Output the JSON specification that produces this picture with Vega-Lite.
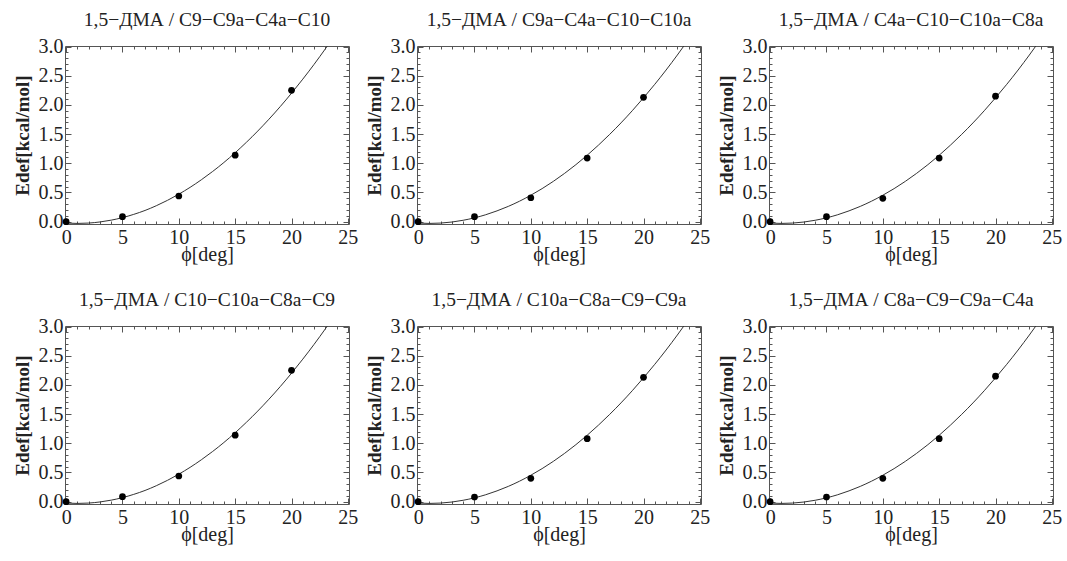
{
  "$schema": "https://vega.github.io/schema/vega-lite/v6.json",
  "padding": {"left": 13, "top": 10, "right": 4, "bottom": 4},
  "background": "white",
  "data": {"values": [
    {"p":1,"k":"d","x":0,"y":0.0},{"p":1,"k":"d","x":5,"y":0.086},{"p":1,"k":"d","x":10,"y":0.44},{"p":1,"k":"d","x":15,"y":1.14},{"p":1,"k":"d","x":20,"y":2.25},
    {"p":2,"k":"d","x":0,"y":0.0},{"p":2,"k":"d","x":5,"y":0.086},{"p":2,"k":"d","x":10,"y":0.41},{"p":2,"k":"d","x":15,"y":1.09},{"p":2,"k":"d","x":20,"y":2.13},
    {"p":3,"k":"d","x":0,"y":0.0},{"p":3,"k":"d","x":5,"y":0.086},{"p":3,"k":"d","x":10,"y":0.40},{"p":3,"k":"d","x":15,"y":1.09},{"p":3,"k":"d","x":20,"y":2.15},
    {"p":4,"k":"d","x":0,"y":0.0},{"p":4,"k":"d","x":5,"y":0.086},{"p":4,"k":"d","x":10,"y":0.44},{"p":4,"k":"d","x":15,"y":1.14},{"p":4,"k":"d","x":20,"y":2.25},
    {"p":5,"k":"d","x":0,"y":0.0},{"p":5,"k":"d","x":5,"y":0.08},{"p":5,"k":"d","x":10,"y":0.40},{"p":5,"k":"d","x":15,"y":1.08},{"p":5,"k":"d","x":20,"y":2.13},
    {"p":6,"k":"d","x":0,"y":0.0},{"p":6,"k":"d","x":5,"y":0.08},{"p":6,"k":"d","x":10,"y":0.40},{"p":6,"k":"d","x":15,"y":1.08},{"p":6,"k":"d","x":20,"y":2.15},

    {"p":1,"k":"f","x":0,"y":-0.024},{"p":1,"k":"f","x":1,"y":-0.030},{"p":1,"k":"f","x":2,"y":-0.024},{"p":1,"k":"f","x":3,"y":-0.005},{"p":1,"k":"f","x":4,"y":0.026},{"p":1,"k":"f","x":5,"y":0.069},{"p":1,"k":"f","x":6,"y":0.125},{"p":1,"k":"f","x":7,"y":0.192},{"p":1,"k":"f","x":8,"y":0.273},{"p":1,"k":"f","x":9,"y":0.366},{"p":1,"k":"f","x":10,"y":0.471},{"p":1,"k":"f","x":11,"y":0.588},{"p":1,"k":"f","x":12,"y":0.718},{"p":1,"k":"f","x":13,"y":0.860},{"p":1,"k":"f","x":14,"y":1.014},{"p":1,"k":"f","x":15,"y":1.181},{"p":1,"k":"f","x":16,"y":1.361},{"p":1,"k":"f","x":17,"y":1.552},{"p":1,"k":"f","x":18,"y":1.756},{"p":1,"k":"f","x":19,"y":1.972},{"p":1,"k":"f","x":20,"y":2.201},{"p":1,"k":"f","x":21,"y":2.442},{"p":1,"k":"f","x":22,"y":2.695},{"p":1,"k":"f","x":23,"y":2.961},{"p":1,"k":"f","x":24,"y":3.239},
    {"p":4,"k":"f","x":0,"y":-0.024},{"p":4,"k":"f","x":1,"y":-0.030},{"p":4,"k":"f","x":2,"y":-0.024},{"p":4,"k":"f","x":3,"y":-0.005},{"p":4,"k":"f","x":4,"y":0.026},{"p":4,"k":"f","x":5,"y":0.069},{"p":4,"k":"f","x":6,"y":0.125},{"p":4,"k":"f","x":7,"y":0.192},{"p":4,"k":"f","x":8,"y":0.273},{"p":4,"k":"f","x":9,"y":0.366},{"p":4,"k":"f","x":10,"y":0.471},{"p":4,"k":"f","x":11,"y":0.588},{"p":4,"k":"f","x":12,"y":0.718},{"p":4,"k":"f","x":13,"y":0.860},{"p":4,"k":"f","x":14,"y":1.014},{"p":4,"k":"f","x":15,"y":1.181},{"p":4,"k":"f","x":16,"y":1.361},{"p":4,"k":"f","x":17,"y":1.552},{"p":4,"k":"f","x":18,"y":1.756},{"p":4,"k":"f","x":19,"y":1.972},{"p":4,"k":"f","x":20,"y":2.201},{"p":4,"k":"f","x":21,"y":2.442},{"p":4,"k":"f","x":22,"y":2.695},{"p":4,"k":"f","x":23,"y":2.961},{"p":4,"k":"f","x":24,"y":3.239},
    {"p":2,"k":"f","x":0,"y":-0.024},{"p":2,"k":"f","x":1,"y":-0.030},{"p":2,"k":"f","x":2,"y":-0.024},{"p":2,"k":"f","x":3,"y":-0.006},{"p":2,"k":"f","x":4,"y":0.024},{"p":2,"k":"f","x":5,"y":0.065},{"p":2,"k":"f","x":6,"y":0.119},{"p":2,"k":"f","x":7,"y":0.185},{"p":2,"k":"f","x":8,"y":0.262},{"p":2,"k":"f","x":9,"y":0.351},{"p":2,"k":"f","x":10,"y":0.453},{"p":2,"k":"f","x":11,"y":0.566},{"p":2,"k":"f","x":12,"y":0.691},{"p":2,"k":"f","x":13,"y":0.828},{"p":2,"k":"f","x":14,"y":0.977},{"p":2,"k":"f","x":15,"y":1.138},{"p":2,"k":"f","x":16,"y":1.311},{"p":2,"k":"f","x":17,"y":1.496},{"p":2,"k":"f","x":18,"y":1.692},{"p":2,"k":"f","x":19,"y":1.901},{"p":2,"k":"f","x":20,"y":2.122},{"p":2,"k":"f","x":21,"y":2.354},{"p":2,"k":"f","x":22,"y":2.598},{"p":2,"k":"f","x":23,"y":2.855},{"p":2,"k":"f","x":24,"y":3.123},
    {"p":3,"k":"f","x":0,"y":-0.024},{"p":3,"k":"f","x":1,"y":-0.030},{"p":3,"k":"f","x":2,"y":-0.024},{"p":3,"k":"f","x":3,"y":-0.006},{"p":3,"k":"f","x":4,"y":0.024},{"p":3,"k":"f","x":5,"y":0.065},{"p":3,"k":"f","x":6,"y":0.119},{"p":3,"k":"f","x":7,"y":0.185},{"p":3,"k":"f","x":8,"y":0.262},{"p":3,"k":"f","x":9,"y":0.351},{"p":3,"k":"f","x":10,"y":0.453},{"p":3,"k":"f","x":11,"y":0.566},{"p":3,"k":"f","x":12,"y":0.691},{"p":3,"k":"f","x":13,"y":0.828},{"p":3,"k":"f","x":14,"y":0.977},{"p":3,"k":"f","x":15,"y":1.138},{"p":3,"k":"f","x":16,"y":1.311},{"p":3,"k":"f","x":17,"y":1.496},{"p":3,"k":"f","x":18,"y":1.692},{"p":3,"k":"f","x":19,"y":1.901},{"p":3,"k":"f","x":20,"y":2.122},{"p":3,"k":"f","x":21,"y":2.354},{"p":3,"k":"f","x":22,"y":2.598},{"p":3,"k":"f","x":23,"y":2.855},{"p":3,"k":"f","x":24,"y":3.123},
    {"p":5,"k":"f","x":0,"y":-0.024},{"p":5,"k":"f","x":1,"y":-0.030},{"p":5,"k":"f","x":2,"y":-0.024},{"p":5,"k":"f","x":3,"y":-0.006},{"p":5,"k":"f","x":4,"y":0.024},{"p":5,"k":"f","x":5,"y":0.065},{"p":5,"k":"f","x":6,"y":0.119},{"p":5,"k":"f","x":7,"y":0.185},{"p":5,"k":"f","x":8,"y":0.262},{"p":5,"k":"f","x":9,"y":0.351},{"p":5,"k":"f","x":10,"y":0.453},{"p":5,"k":"f","x":11,"y":0.566},{"p":5,"k":"f","x":12,"y":0.691},{"p":5,"k":"f","x":13,"y":0.828},{"p":5,"k":"f","x":14,"y":0.977},{"p":5,"k":"f","x":15,"y":1.138},{"p":5,"k":"f","x":16,"y":1.311},{"p":5,"k":"f","x":17,"y":1.496},{"p":5,"k":"f","x":18,"y":1.692},{"p":5,"k":"f","x":19,"y":1.901},{"p":5,"k":"f","x":20,"y":2.122},{"p":5,"k":"f","x":21,"y":2.354},{"p":5,"k":"f","x":22,"y":2.598},{"p":5,"k":"f","x":23,"y":2.855},{"p":5,"k":"f","x":24,"y":3.123},
    {"p":6,"k":"f","x":0,"y":-0.024},{"p":6,"k":"f","x":1,"y":-0.030},{"p":6,"k":"f","x":2,"y":-0.024},{"p":6,"k":"f","x":3,"y":-0.006},{"p":6,"k":"f","x":4,"y":0.024},{"p":6,"k":"f","x":5,"y":0.065},{"p":6,"k":"f","x":6,"y":0.119},{"p":6,"k":"f","x":7,"y":0.185},{"p":6,"k":"f","x":8,"y":0.262},{"p":6,"k":"f","x":9,"y":0.351},{"p":6,"k":"f","x":10,"y":0.453},{"p":6,"k":"f","x":11,"y":0.566},{"p":6,"k":"f","x":12,"y":0.691},{"p":6,"k":"f","x":13,"y":0.828},{"p":6,"k":"f","x":14,"y":0.977},{"p":6,"k":"f","x":15,"y":1.138},{"p":6,"k":"f","x":16,"y":1.311},{"p":6,"k":"f","x":17,"y":1.496},{"p":6,"k":"f","x":18,"y":1.692},{"p":6,"k":"f","x":19,"y":1.901},{"p":6,"k":"f","x":20,"y":2.122},{"p":6,"k":"f","x":21,"y":2.354},{"p":6,"k":"f","x":22,"y":2.598},{"p":6,"k":"f","x":23,"y":2.855},{"p":6,"k":"f","x":24,"y":3.123}
  ]},
  "facet": {
    "field": "p", "type": "ordinal",
    "header": {
      "title": null,
      "labelExpr": "['1,5−ДМА / C9−C9a−C4a−C10','1,5−ДМА / C9a−C4a−C10−C10a','1,5−ДМА / C4a−C10−C10a−C8a','1,5−ДМА / C10−C10a−C8a−C9','1,5−ДМА / C10a−C8a−C9−C9a','1,5−ДМА / C8a−C9−C9a−C4a'][datum.value-1]",
      "labelFont": "Liberation Serif", "labelFontSize": 19.5, "labelColor": "#222", "labelPadding": 6
    }
  },
  "columns": 3,
  "spacing": {"column": 7, "row": 26},
  "resolve": {"axis": {"x": "independent", "y": "independent"}},
  "spec": {
    "width": 284, "height": 178,
    "layer": [
      {
        "transform": [{"filter": "datum.k == 'f'"}],
        "mark": {"type": "line", "clip": true, "color": "#333", "strokeWidth": 1, "interpolate": "monotone"},
        "encoding": {
          "x": {"field": "x", "type": "quantitative",
            "scale": {"domain": [-0.1, 25.1], "nice": false, "zero": false},
            "axis": {"orient": "bottom", "title": "ϕ[deg]",
              "labelFont": "Liberation Serif", "titleFont": "Liberation Serif",
              "values": [0,1,2,3,4,5,6,7,8,9,10,11,12,13,14,15,16,17,18,19,20,21,22,23,24,25],
              "labelExpr": "datum.value % 5 == 0 ? datum.label : ''",
              "tickSize": {"condition": {"test": "datum.value % 5 == 0", "value": -6}, "value": -3},
              "labelPadding": 9, "titlePadding": -6}},
          "y": {"field": "y", "type": "quantitative",
            "scale": {"domain": [-0.04, 3.01], "nice": false, "zero": false},
            "axis": {"orient": "left", "title": "Edef[kcal/mol]",
              "labelFont": "Liberation Serif", "titleFont": "Liberation Serif", "titleFontWeight": "bold", "titleFontSize": 19,
              "values": [0,0.1,0.2,0.3,0.4,0.5,0.6,0.7,0.8,0.9,1.0,1.1,1.2,1.3,1.4,1.5,1.6,1.7,1.8,1.9,2.0,2.1,2.2,2.3,2.4,2.5,2.6,2.7,2.8,2.9,3.0],
              "labelExpr": "abs(datum.value*2 - round(datum.value*2)) < 0.001 ? format(datum.value, '.1f') : ''",
              "tickSize": {"condition": {"test": "abs(datum.value*2 - round(datum.value*2)) < 0.001", "value": -6}, "value": -3},
              "labelPadding": 8, "titlePadding": 6}}
        }
      },
      {
        "transform": [{"filter": "datum.k == 'd'"}],
        "mark": {"type": "point", "filled": true, "color": "#000", "opacity": 1, "size": 45},
        "encoding": {
          "x": {"field": "x", "type": "quantitative",
            "axis": {"orient": "top", "title": null, "labels": false,
              "values": [0,1,2,3,4,5,6,7,8,9,10,11,12,13,14,15,16,17,18,19,20,21,22,23,24,25],
              "tickSize": {"condition": {"test": "datum.value % 5 == 0", "value": -6}, "value": -3}}},
          "y": {"field": "y", "type": "quantitative",
            "axis": {"orient": "right", "title": null, "labels": false,
              "values": [0,0.1,0.2,0.3,0.4,0.5,0.6,0.7,0.8,0.9,1.0,1.1,1.2,1.3,1.4,1.5,1.6,1.7,1.8,1.9,2.0,2.1,2.2,2.3,2.4,2.5,2.6,2.7,2.8,2.9,3.0],
              "tickSize": {"condition": {"test": "abs(datum.value*2 - round(datum.value*2)) < 0.001", "value": -6}, "value": -3}}}
        }
      }
    ],
    "resolve": {"axis": {"x": "independent", "y": "independent"}}
  },
  "config": {
    "view": {"stroke": null},
    "font": "Liberation Serif",
    "axis": {
      "grid": false,
      "domainColor": "#555", "tickColor": "#555", "domainWidth": 1, "tickWidth": 1,
      "labelFont": "Liberation Serif", "labelFontSize": 20, "labelColor": "#222",
      "labelFlush": false, "labelOverlap": false, "labelBound": false,
      "titleFont": "Liberation Serif", "titleFontSize": 20, "titleFontWeight": "normal", "titleColor": "#222"
    }
  }
}
